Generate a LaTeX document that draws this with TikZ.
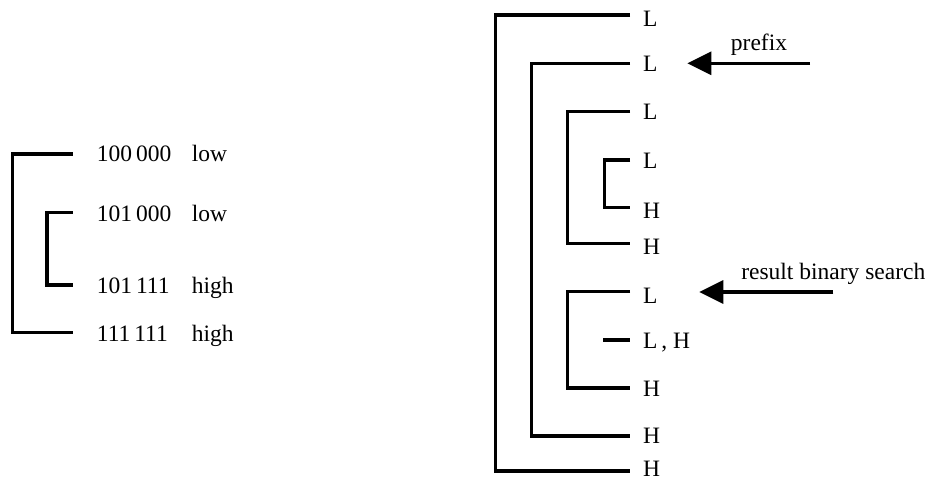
\documentclass[tikz,border=0pt]{standalone}
\usepackage{fontspec}
\setmainfont{Liberation Serif}
\usetikzlibrary{arrows.meta}
\begin{document}
\begin{tikzpicture}[x=1pt,y=-1pt,
  bracket/.style={line width=3.2pt, line cap=butt, line join=miter},
  lab/.style={anchor=base west, inner sep=0pt, font=\fontsize{23.5}{28}\selectfont},
  note/.style={anchor=base, inner sep=0pt, font=\fontsize{23.5}{28}\selectfont},
  pointer/.style={line width=3.2pt, -{Triangle[length=24pt,width=23pt]}}]
\useasboundingbox (0,0) rectangle (929,480);

% ---- left: interval of a three-bit prefix ----
\coordinate (a1) at (72.7,154);
\coordinate (a2) at (72.7,212.7);
\coordinate (a3) at (72.7,285);
\coordinate (a4) at (72.7,332.7);
\coordinate (ca) at (12.3,332.7);
\coordinate (cb) at (47,285);
\draw[bracket] (a1) -| (ca) -- (a4);
\draw[bracket] (a2) -| (cb) -- (a3);

\node[lab] (k1) at (96.7,161.7) {100\,000};
\node[lab] (k2) at (96.7,221.7) {101\,000};
\node[lab] (k3) at (96.7,293.3) {101\,111};
\node[lab] (k4) at (96.7,341)   {111\,111};
\node[lab] (m1) at (191.7,161.7) {low};
\node[lab] (m2) at (191.7,221.7) {low};
\node[lab] (m3) at (191.7,293.3) {high};
\node[lab] (m4) at (191.7,341)   {high};

% ---- right: nested low/high boundaries ----
\coordinate (r1)  at (630,15);
\coordinate (r2)  at (630,63.3);
\coordinate (r3)  at (630,111.5);
\coordinate (r4)  at (630,160);
\coordinate (r5)  at (630,207.5);
\coordinate (r6)  at (630,243.3);
\coordinate (r7)  at (630,291.7);
\coordinate (r8)  at (630,340);
\coordinate (r9)  at (630,388);
\coordinate (r10) at (630,436);
\coordinate (r11) at (630,471);

\coordinate (c1) at (495.7,471);
\coordinate (c2) at (531.7,436);
\coordinate (c3) at (567.7,243.3);
\coordinate (c4) at (604.3,207.5);
\coordinate (c5) at (567.7,388);
\coordinate (c6) at (603.3,340);

\draw[bracket] (r1) -| (c1) -- (r11);
\draw[bracket] (r2) -| (c2) -- (r10);
\draw[bracket] (r3) -| (c3) -- (r6);
\draw[bracket] (r4) -| (c4) -- (r5);
\draw[bracket] (r7) -| (c5) -- (r9);
\draw[bracket] (c6) -- (r8);

\node[lab] (l1)  at (643,26.5)  {L};
\node[lab] (l2)  at (643,71.7)  {L};
\node[lab] (l3)  at (643,119)   {L};
\node[lab] (l4)  at (643,168)   {L};
\node[lab] (l5)  at (643,218)   {H};
\node[lab] (l6)  at (643,254)   {H};
\node[lab] (l7)  at (643,303)   {L};
\node[lab] (l8)  at (643,348)   {L\,, H};
\node[lab] (l9)  at (643,396.5) {H};
\node[lab] (l10) at (643,443.5) {H};
\node[lab] (l11) at (643,476.5) {H};

% ---- pointers ----
\coordinate (p0) at (810,63.3);
\coordinate (p1) at (687.3,63.3);
\draw[pointer] (p0) -- (p1);
\node[note] (pt) at (759,50) {prefix};

\coordinate (q0) at (833.3,292);
\coordinate (q1) at (699.3,292);
\draw[pointer] (q0) -- (q1);
\node[note] (qt) at (833.3,279.5) {result binary search};
\end{tikzpicture}
\end{document}
